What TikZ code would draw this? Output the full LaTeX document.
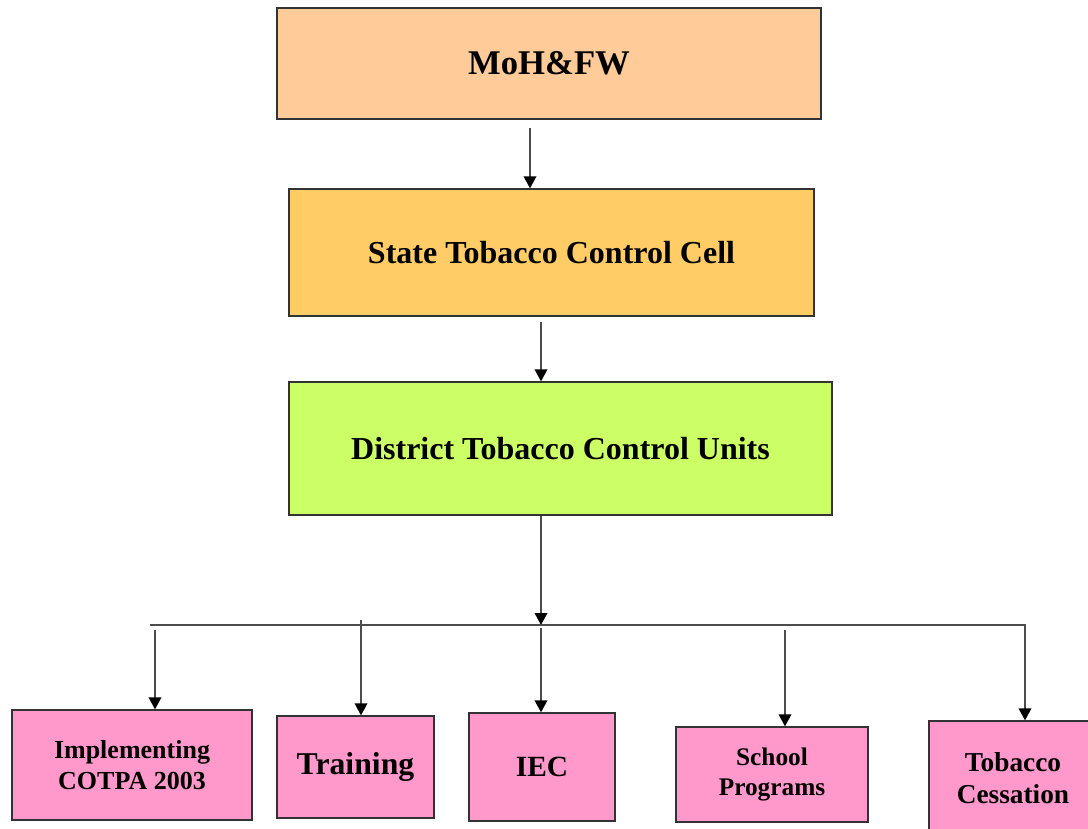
\documentclass[tikz,border=0pt]{standalone}
\usepackage{fontspec}
\setmainfont{Liberation Serif}
\usepackage{xcolor}
\usetikzlibrary{positioning,arrows.meta,calc}
\definecolor{mohpeach}{RGB}{255,204,153}
\definecolor{stateorange}{RGB}{255,204,102}
\definecolor{distgreen}{RGB}{204,255,102}
\definecolor{actpink}{RGB}{255,153,204}
\tikzset{
  box/.style={draw=black!80, line width=1pt, align=center, inner sep=0pt},
  levelbox/.style={box, font=\bfseries\fontsize{24}{29}\selectfont},
  actbox/.style={box, fill=actpink},
  arrow/.style={-{Triangle[length=9pt, width=9.5pt, fill=black, color=black]}, line width=1pt, black!70},
  busline/.style={line width=1pt, black!70}
}

\begin{document}
\begin{tikzpicture}[x=0.75pt, y=-0.75pt]
        \clip (0,0) rectangle (1088,828);
        % levels
        \node[levelbox, fill=mohpeach, minimum width=408pt, minimum height=83.25pt, font=\bfseries\fontsize{26}{31}\selectfont] (moh) at (549,63.5) {MoH\&FW};
        \node[levelbox, fill=stateorange, minimum width=393.75pt, minimum height=95.25pt] (stcc) at (551.5,252.5) {State Tobacco Control Cell};
        \node[levelbox, fill=distgreen, minimum width=407.25pt, minimum height=99.75pt] (dtcu) at (560.5,448.5) {District Tobacco Control Units};
        % activities
        \node[actbox, minimum width=180pt, minimum height=82.5pt, font=\bfseries\fontsize{19.5}{23}\selectfont] (impl) at (132,765) {Implementing\\COTPA 2003};
        \node[actbox, minimum width=117.75pt, minimum height=76.5pt, font=\bfseries\fontsize{23.8}{28}\selectfont] (train) at (355.5,767) {\raisebox{-3pt}{Training}};
        \node[actbox, minimum width=109.5pt, minimum height=81pt, font=\bfseries\fontsize{22}{26}\selectfont] (iec) at (542,767) {\raisebox{-6pt}{IEC}};
        \node[actbox, minimum width=144pt, minimum height=71.25pt, font=\bfseries\fontsize{19}{22.5}\selectfont] (school) at (772,774.5) {School\\Programs};
        \node[actbox, minimum width=126pt, minimum height=85.5pt, font=\bfseries\fontsize{20.5}{24.5}\selectfont] (cess) at (1013,778) {Tobacco\\Cessation};
        % connector columns
        \coordinate (t1) at (530,128);
        \coordinate (t2) at (541,322);
        \coordinate (bus) at (541,625);
        \coordinate (busL) at (150,625);
        \coordinate (busR) at (1025,625);
        \coordinate (a1) at (155,630);
        \coordinate (a2) at (361,620);
        \coordinate (a3) at (541,628);
        \coordinate (a4) at (785,630);
        \draw[arrow] (t1) -- (t1 |- stcc.north);
        \draw[arrow] (t2) -- (t2 |- dtcu.north);
        \draw[arrow] (dtcu.south -| bus) -- (bus);
        \draw[arrow] (busL) -- (busR) -- (busR |- cess.north);
        \draw[arrow] (a1) -- (a1 |- impl.north);
        \draw[arrow] (a2) -- (a2 |- train.north);
        \draw[arrow] (a3) -- (a3 |- iec.north);
        \draw[arrow] (a4) -- (a4 |- school.north);
      \end{tikzpicture}
\end{document}
